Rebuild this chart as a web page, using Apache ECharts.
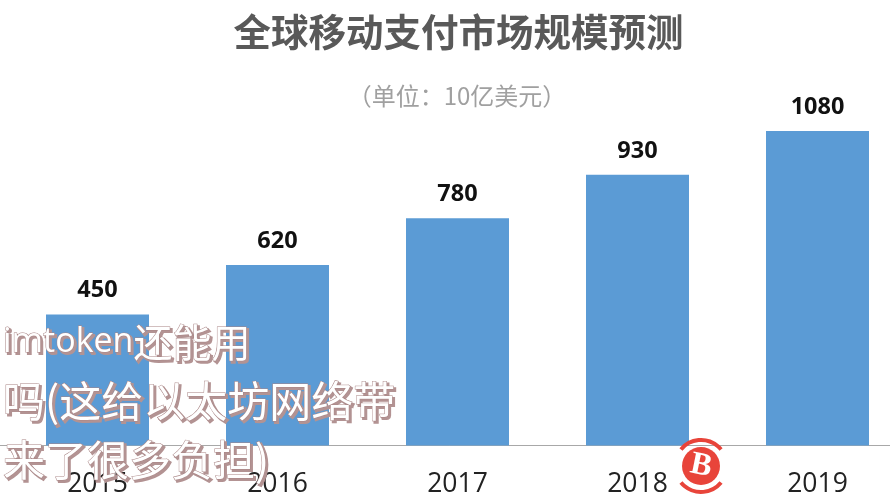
<!DOCTYPE html>
<html>
<head>
<meta charset="utf-8">
<style>
  html, body { margin: 0; padding: 0; background: #fff; }
  #chart { width: 890px; height: 501px; }
</style>
<script src="https://cdn.jsdelivr.net/npm/echarts@6/dist/echarts.min.js"></script>
</head>
<body>
<div id="chart"></div>
<script>
const years = ['2015', '2016', '2017', '2018', '2019']
const marketSize = [450, 620, 780, 930, 1080]

const titleText = '全球移动支付市场规模预测'
const unitText = '（单位：10亿美元）'
const overlayText = '{a|imtoken}{c|还能用}\n{b|吗(这给以太坊网络带}\n{b|来了很多负担)}'

const latin = '"Open Sans", "Noto Sans CJK SC", sans-serif'
const cjk = '"Noto Sans CJK SC", sans-serif'

// site watermark, drawn twice to get the offset shadow
function overlay(x, y, fill, stroke, lineWidth) {
  const token = font => ({ font, fill, stroke, lineWidth, lineHeight: 59 })
  return {
    type: 'text', z: 100, x, y,
    style: {
      text: overlayText,
      rich: { a: token('34px ' + latin), b: token('42px ' + cjk), c: token('39px ' + cjk) }
    }
  }
}

const chart = echarts.init(document.getElementById('chart'))
chart.setOption({
  animation: false,
  backgroundColor: '#fff',
  title: [
    { text: titleText, left: 453.5, top: 8, textAlign: 'center',
      textStyle: { fontFamily: cjk, fontSize: 37.5, fontWeight: 'bold', color: '#595959' } },
    { text: unitText, left: 452, top: 79, textAlign: 'center',
      textStyle: { fontFamily: cjk, fontSize: 24, fontWeight: 'normal', color: '#a0a0a0' } }
  ],
  grid: { left: 7.5, width: 900, top: 131, bottom: 55.5, outerBoundsMode: 'none' },
  xAxis: {
    type: 'category',
    data: years,
    axisTick: { show: false },
    axisLine: { show: true, lineStyle: { color: '#a8a8a8', width: 1 } },
    axisLabel: { fontFamily: latin, fontSize: 26.5, color: '#222', margin: 26 }
  },
  yAxis: { type: 'value', min: 0, max: 1080, show: false },
  series: [{
    type: 'bar',
    data: marketSize,
    barWidth: 103,
    itemStyle: { color: '#5b9bd5' },
    label: {
      show: true,
      position: 'top',
      distance: 12,
      fontFamily: latin,
      fontSize: 23.5,
      fontWeight: 'bold',
      color: '#111'
    }
  }],
  graphic: [
    // axis stub left of the grid
    { type: 'line', z: 1, shape: { x1: 0, y1: 445.5, x2: 8, y2: 445.5 }, style: { stroke: '#a8a8a8', lineWidth: 1 } },
    overlay(5, 315, '#b39393', '#b39393', 2),
    overlay(3, 313, '#fff', '#a98686', 1),
    // bitcoin badge
    { type: 'circle', z: 100, shape: { cx: 701, cy: 466, r: 19 }, style: { fill: '#e8443a' } },
    { type: 'arc', z: 100, shape: { cx: 701, cy: 466, r: 26, startAngle: -2.45, endAngle: -0.69 },
      style: { stroke: '#e8443a', fill: 'none', lineWidth: 4 } },
    { type: 'arc', z: 100, shape: { cx: 701, cy: 466, r: 26, startAngle: 0.69, endAngle: 2.45 },
      style: { stroke: '#e8443a', fill: 'none', lineWidth: 4 } },
    { type: 'text', z: 101, x: 701, y: 466, rotation: -0.2, style: {
      text: 'B', font: 'bold 32px "Liberation Serif", serif', fill: '#fff', align: 'center', verticalAlign: 'middle'
    } }
  ]
})
</script>
</body>
</html>
